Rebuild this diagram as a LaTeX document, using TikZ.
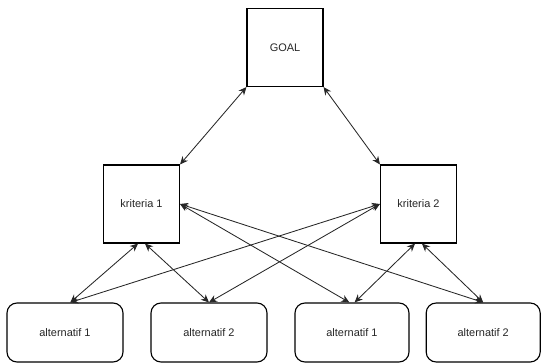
\documentclass[tikz,border=0pt]{standalone}
\usepackage{fontspec}
\setmainfont{Liberation Sans}
\usepackage{tikz}
\usetikzlibrary{arrows.meta}

\begin{document}
\begin{tikzpicture}

    \useasboundingbox (0,0) rectangle (13.525,9.075);

    \tikzset{box/.style={draw,line width=0.8pt,minimum width=1.9cm,minimum height=1.95cm,inner sep=0pt,text=black!85,font=\fontsize{7.8}{9}\selectfont}}
    \tikzset{alt/.style={box,rounded corners=2.5mm,minimum width=2.9cm,minimum height=1.475cm}}
    \tikzset{biarrow/.style={{Stealth[length=2mm,width=1.8mm]}-{Stealth[length=2mm,width=1.8mm]},line width=0.6pt,black!85}}

    % goal
    \node[box] (G) at (7.125,7.8875) {GOAL};

    % criteria
    \node[box] (K1) at (3.5375,3.975) {kriteria 1};
    \node[box] (K2) at (10.4625,3.975) {kriteria 2};

    % alternatives
    \node[alt] (A1) at (1.625,.7625) {alternatif 1};
    \node[alt] (A2) at (5.225,.7625) {alternatif 2};
    \node[alt,minimum width=2.85cm] (A3) at (8.8,.7625) {alternatif 1};
    \node[alt,minimum width=2.85cm] (A4) at (12.08,.7625) {alternatif 2};

    % goal to criteria
    \draw[biarrow] (G.south west) -- (K1.north east);
    \draw[biarrow] (G.south east) -- (K2.north west);

    % criteria to alternatives
    \draw[biarrow] (K1.-95) -- (A1.80);
    \draw[biarrow] (K1.-85) -- (A2.north);
    \draw[biarrow] (K1.east) -- (A3.95);
    \draw[biarrow] (K1.east) -- (A4.north);
    \draw[biarrow] (K2.west) -- (A1.80);
    \draw[biarrow] (K2.west) -- (A2.north);
    \draw[biarrow] (K2.-95) -- (A3.85);
    \draw[biarrow] (K2.-85) -- (A4.north);

\end{tikzpicture}
\end{document}
